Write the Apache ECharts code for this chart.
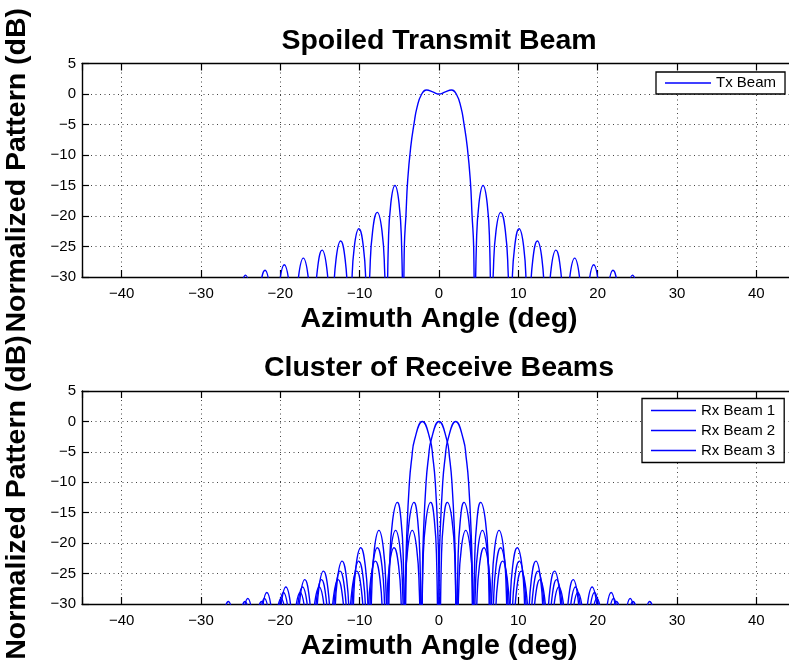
<!DOCTYPE html>
<html><head><meta charset="utf-8">
<script src="https://cdn.jsdelivr.net/npm/echarts@6/dist/echarts.min.js"></script>
<style>html,body{margin:0;padding:0;background:#fff;}#c{width:789px;height:662px;}</style>
</head><body><div id="c"></div>
<script>
// ---- Data ----
const txAngle = [
-25.6,-25.36,-24.99,-24.38,-23.76,-23.4,
-23.15,-22.91,-22.54,-21.93,-21.31,-20.95,
-20.7,-20.46,-20.1,-19.5,-18.9,-18.54,
-18.3,-18.06,-17.7,-17.1,-16.5,-16.14,
-15.9,-15.67,-15.31,-14.73,-14.14,-13.79,
-13.55,-13.32,-12.98,-12.4,-11.83,-11.48,
-11.25,-11.02,-10.68,-10.1,-9.53,-9.18,
-8.95,-8.72,-8.36,-7.78,-7.19,-6.84,
-6.6,-6.39,-6.08,-5.55,-5.03,-4.71,
-4.5,-4.37,-4.16,-3.95,-3.57,-3.15,-2.77,-2.18,-1.55,-0.8,
0,
0.8,1.55,2.18,2.77,3.15,3.57,3.95,4.16,4.37,4.5,
4.71,5.03,5.55,6.08,6.39,6.6,
6.84,7.19,7.78,8.36,8.72,8.95,
9.18,9.53,10.1,10.68,11.02,11.25,
11.48,11.83,12.4,12.98,13.32,13.55,
13.79,14.14,14.73,15.31,15.67,15.9,
16.14,16.5,17.1,17.7,18.06,18.3,
18.54,18.9,19.5,20.1,20.46,20.7,
20.95,21.31,21.93,22.54,22.91,23.15,
23.4,23.76,24.38,24.99,25.36,25.6
];
const txDb = [
-40,-39.7,-32.7,-29.7,-32.7,-39.7,
-40,-38.9,-31.9,-28.9,-31.9,-38.9,
-40,-38,-31,-28,-31,-38,
-40,-36.9,-29.9,-26.9,-29.9,-36.9,
-40,-35.6,-28.6,-25.6,-28.6,-35.6,
-40,-34.1,-27.1,-24.1,-27.1,-34.1,
-40,-32.1,-25.1,-22.1,-25.1,-32.1,
-40,-29.4,-22.4,-19.4,-22.4,-29.4,
-40,-25,-18,-15,-18,-25,
-40,-25.1,-19.7,-14.2,-8.75,-4.9,-2.2,0,0.65,0.35,
0,
0.35,0.65,0,-2.2,-4.9,-8.75,-14.2,-19.7,-25.1,-40,
-25,-18,-15,-18,-25,-40,
-29.4,-22.4,-19.4,-22.4,-29.4,-40,
-32.1,-25.1,-22.1,-25.1,-32.1,-40,
-34.1,-27.1,-24.1,-27.1,-34.1,-40,
-35.6,-28.6,-25.6,-28.6,-35.6,-40,
-36.9,-29.9,-26.9,-29.9,-36.9,-40,
-38,-31,-28,-31,-38,-40,
-38.9,-31.9,-28.9,-31.9,-38.9,-40,
-39.7,-32.7,-29.7,-32.7,-39.7,-40
];
const rxBeam1Angle = [
-27.8,-27.55,-27.17,-26.55,-25.92,-25.55,
-25.3,-25.06,-24.7,-24.1,-23.5,-23.14,
-22.9,-22.66,-22.3,-21.7,-21.1,-20.74,
-20.5,-20.26,-19.9,-19.3,-18.7,-18.34,
-18.1,-17.86,-17.51,-16.92,-16.34,-15.99,
-15.75,-15.51,-15.16,-14.57,-13.99,-13.64,
-13.4,-13.16,-12.81,-12.22,-11.64,-11.29,
-11.05,-10.81,-10.46,-9.87,-9.29,-8.94,
-8.7,-8.48,-8.14,-7.57,-7.01,-6.68,
-6.45,-6.21,-5.85,-5.25,-4.78,-4.49,
-4.3,-4.19,-4.08,-3.73,-3.43,-3.08,
-2.1,
-1.12,-0.77,-0.47,-0.12,-0.01,0.1,
0.29,0.58,1.05,1.65,2.01,2.25,
2.48,2.81,3.37,3.94,4.28,4.5,
4.74,5.09,5.67,6.26,6.61,6.85,
7.09,7.44,8.02,8.61,8.96,9.2,
9.44,9.79,10.37,10.96,11.31,11.55,
11.79,12.14,12.72,13.31,13.66,13.9,
14.14,14.5,15.1,15.7,16.06,16.3,
16.54,16.9,17.5,18.1,18.46,18.7,
18.94,19.3,19.9,20.5,20.86,21.1,
21.35,21.72,22.35,22.97,23.35,23.6
];
const rxBeam2Angle = [
-25.7,-25.45,-25.07,-24.45,-23.82,-23.45,
-23.2,-22.96,-22.6,-22.0,-21.4,-21.04,
-20.8,-20.56,-20.2,-19.6,-19.0,-18.64,
-18.4,-18.16,-17.8,-17.2,-16.6,-16.24,
-16.0,-15.76,-15.41,-14.82,-14.24,-13.89,
-13.65,-13.41,-13.06,-12.47,-11.89,-11.54,
-11.3,-11.06,-10.71,-10.12,-9.54,-9.19,
-8.95,-8.71,-8.36,-7.77,-7.19,-6.84,
-6.6,-6.38,-6.04,-5.47,-4.91,-4.58,
-4.35,-4.11,-3.75,-3.15,-2.68,-2.39,
-2.2,-2.09,-1.98,-1.63,-1.33,-0.98,
0,
0.98,1.33,1.63,1.98,2.09,2.2,
2.39,2.68,3.15,3.75,4.11,4.35,
4.58,4.91,5.47,6.04,6.38,6.6,
6.84,7.19,7.77,8.36,8.71,8.95,
9.19,9.54,10.12,10.71,11.06,11.3,
11.54,11.89,12.47,13.06,13.41,13.65,
13.89,14.24,14.82,15.41,15.76,16.0,
16.24,16.6,17.2,17.8,18.16,18.4,
18.64,19.0,19.6,20.2,20.56,20.8,
21.04,21.4,22.0,22.6,22.96,23.2,
23.45,23.82,24.45,25.07,25.45,25.7
];
const rxBeam3Angle = [
-23.6,-23.35,-22.97,-22.35,-21.72,-21.35,
-21.1,-20.86,-20.5,-19.9,-19.3,-18.94,
-18.7,-18.46,-18.1,-17.5,-16.9,-16.54,
-16.3,-16.06,-15.7,-15.1,-14.5,-14.14,
-13.9,-13.66,-13.31,-12.72,-12.14,-11.79,
-11.55,-11.31,-10.96,-10.37,-9.79,-9.44,
-9.2,-8.96,-8.61,-8.02,-7.44,-7.09,
-6.85,-6.61,-6.26,-5.67,-5.09,-4.74,
-4.5,-4.28,-3.94,-3.37,-2.81,-2.48,
-2.25,-2.01,-1.65,-1.05,-0.58,-0.29,
-0.1,0.01,0.12,0.47,0.77,1.12,
2.1,
3.08,3.43,3.73,4.08,4.19,4.3,
4.49,4.78,5.25,5.85,6.21,6.45,
6.68,7.01,7.57,8.14,8.48,8.7,
8.94,9.29,9.87,10.46,10.81,11.05,
11.29,11.64,12.22,12.81,13.16,13.4,
13.64,13.99,14.57,15.16,15.51,15.75,
15.99,16.34,16.92,17.51,17.86,18.1,
18.34,18.7,19.3,19.9,20.26,20.5,
20.74,21.1,21.7,22.3,22.66,22.9,
23.14,23.5,24.1,24.7,25.06,25.3,
25.55,25.92,26.55,27.17,27.55,27.8
];
const rxDb = [
-40,-39.6,-32.6,-29.6,-32.6,-39.6,
-40,-39.1,-32.1,-29.1,-32.1,-39.1,
-40,-38.1,-31.1,-28.1,-31.1,-38.1,
-40,-37.2,-30.2,-27.2,-30.2,-37.2,
-40,-36,-29,-26,-29,-36,
-40,-34.6,-27.6,-24.6,-27.6,-34.6,
-40,-32.95,-25.95,-22.95,-25.95,-32.95,
-40,-30.75,-23.75,-20.75,-23.75,-30.75,
-40,-27.9,-20.9,-17.9,-20.9,-27.9,
-40,-23.3,-16.3,-13.3,-16.3,-23.3,
-40,-25.6,-19.2,-10,-6,-3,
0,
-3,-6,-10,-19.2,-25.6,-40,
-23.3,-16.3,-13.3,-16.3,-23.3,-40,
-27.9,-20.9,-17.9,-20.9,-27.9,-40,
-30.75,-23.75,-20.75,-23.75,-30.75,-40,
-32.95,-25.95,-22.95,-25.95,-32.95,-40,
-34.6,-27.6,-24.6,-27.6,-34.6,-40,
-36,-29,-26,-29,-36,-40,
-37.2,-30.2,-27.2,-30.2,-37.2,-40,
-38.1,-31.1,-28.1,-31.1,-38.1,-40,
-39.1,-32.1,-29.1,-32.1,-39.1,-40,
-39.6,-32.6,-29.6,-32.6,-39.6,-40
];
const xTickLabels = [-40,-30,-20,-10,0,10,20,30,40];
const seriesNames = ['Tx Beam','Rx Beam 1','Rx Beam 2','Rx Beam 3'];
const titles = ['Spoiled Transmit Beam','Cluster of Receive Beams'];
const xName = 'Azimuth Angle (deg)';
const yName = 'Normalized Pattern (dB)';

// ---- Chart ----
const FONT = "'Liberation Sans', Arial, Helvetica, sans-serif";
const BLUE = '#0000ff';
const BIG = 28.5;
const fmtNum = v => (v < 0 ? '\u2212' + Math.abs(v) : String(v));
const grids = [
  {left: 82, top: 63.5, width: 714, height: 213.5, containLabel: false, outerBoundsMode: 'none'},
  {left: 82, top: 391, width: 714, height: 213, containLabel: false, outerBoundsMode: 'none'}
];
const dotted = {show: true, lineStyle: {color: '#444', width: 1, type: [1, 3.5]}};
const bigText = {color: '#000', fontFamily: FONT, fontSize: BIG, fontWeight: 'bold'};
function bottomX(g) {
  return {
    type: 'value', gridIndex: g, position: 'bottom', min: -45, max: 45, splitNumber: 9,
    axisLine: {show: true, onZero: false, lineStyle: {color: '#000', width: 1.4}},
    axisTick: {show: true, inside: true, length: 7, lineStyle: {color: '#000', width: 1.2}},
    axisLabel: {show: true, margin: 9, color: '#000', fontFamily: FONT, fontSize: 15,
      formatter: v => xTickLabels.indexOf(v) >= 0 ? fmtNum(v) : ''},
    splitLine: dotted,
    name: xName, nameLocation: 'middle', nameGap: 28, nameTextStyle: bigText
  };
}
function topX(g) {
  return {
    type: 'value', gridIndex: g, position: 'top', min: -45, max: 45, splitNumber: 9,
    axisLine: {show: true, onZero: false, lineStyle: {color: '#000', width: 1.4}},
    axisTick: {show: true, inside: true, length: 7, lineStyle: {color: '#000', width: 1.2}},
    axisLabel: {show: false}, splitLine: {show: false},
    name: titles[g], nameLocation: 'middle', nameGap: 8, nameTextStyle: bigText
  };
}
function leftY(g) {
  return {
    type: 'value', gridIndex: g, min: -30, max: 5, interval: 5,
    axisLine: {show: true, onZero: false, lineStyle: {color: '#000', width: 1.4}},
    axisTick: {show: true, inside: true, length: 7, lineStyle: {color: '#000', width: 1.2}},
    axisLabel: {show: true, margin: 6, color: '#000', fontFamily: FONT, fontSize: 15, formatter: fmtNum},
    splitLine: dotted,
    name: yName, nameLocation: 'middle', nameGap: 50, nameTextStyle: bigText
  };
}
function lineSeries(name, angles, db, xi, yi) {
  return {
    name: name, type: 'line', xAxisIndex: xi, yAxisIndex: yi,
    data: angles.map((a, i) => [a, db[i]]),
    symbol: 'none', showSymbol: false, smooth: 0.5, clip: true,
    lineStyle: {color: BLUE, width: 1.4}, itemStyle: {color: BLUE},
    silent: true, animation: false
  };
}
const legendText = {color: '#000', fontFamily: FONT, fontSize: 15, lineHeight: 16};
const legendBase = {
  orient: 'vertical', icon: 'rect', itemHeight: 1.4, itemGap: 4,
  borderColor: '#000', borderWidth: 1.3, backgroundColor: '#fff', borderRadius: 0,
  textStyle: legendText, selectedMode: false, itemStyle: {color: BLUE}
};
const option = {
  backgroundColor: '#fff',
  animation: false,
  grid: grids,
  xAxis: [bottomX(0), topX(0), bottomX(1), topX(1)],
  yAxis: [leftY(0), leftY(1)],
  legend: [
    Object.assign({}, legendBase, {data: [seriesNames[0]], left: 656, top: 72,
      padding: [3, 9, 3, 9], itemWidth: 46}),
    Object.assign({}, legendBase, {data: seriesNames.slice(1), left: 642, top: 398.5,
      padding: [4, 9, 4, 9], itemWidth: 45})
  ],
  series: [
    lineSeries(seriesNames[0], txAngle, txDb, 0, 0),
    lineSeries(seriesNames[1], rxBeam1Angle, rxDb, 2, 1),
    lineSeries(seriesNames[2], rxBeam2Angle, rxDb, 2, 1),
    lineSeries(seriesNames[3], rxBeam3Angle, rxDb, 2, 1)
  ]
};
const chart = echarts.init(document.getElementById('c'), null, {renderer: 'canvas'});
chart.setOption(option);
</script>
</body></html>
